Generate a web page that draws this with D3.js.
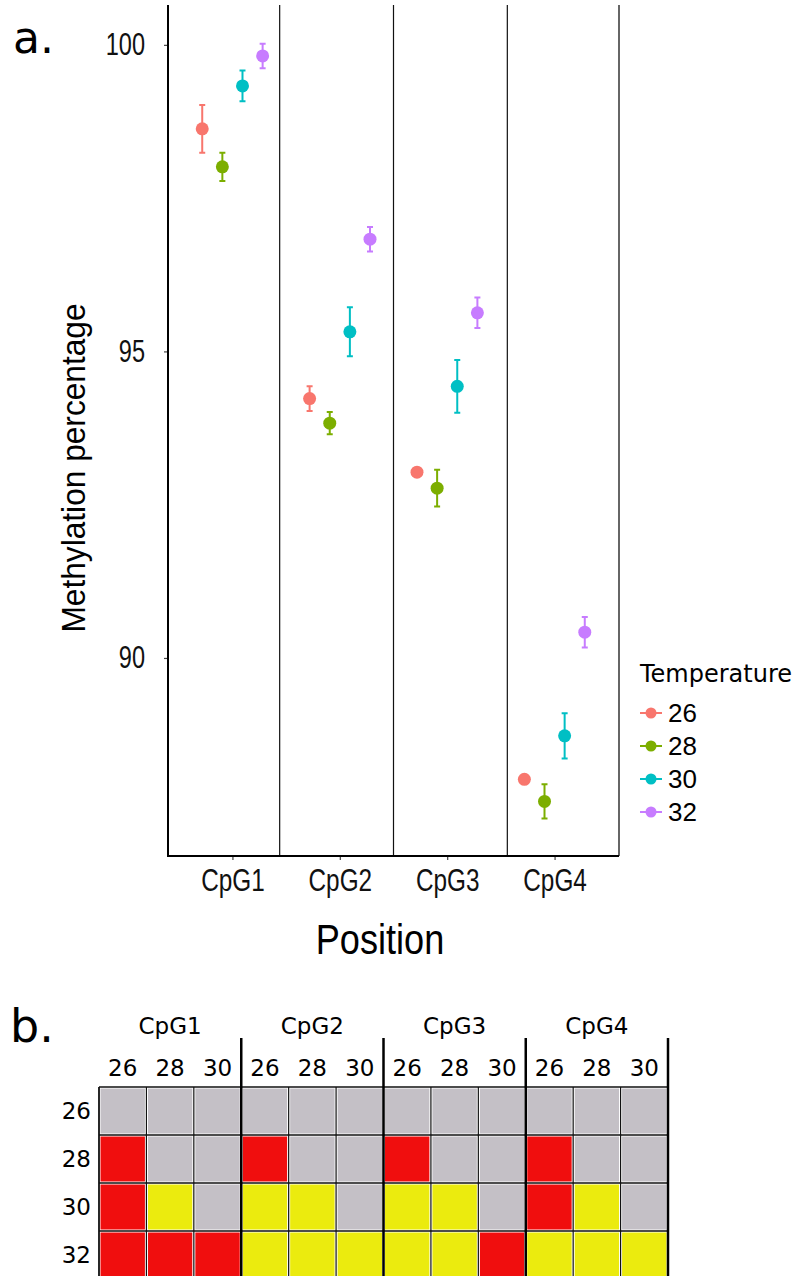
<!DOCTYPE html>
<html>
<head>
<meta charset="utf-8">
<script src="https://cdn.jsdelivr.net/npm/d3@7"></script>
<style>
  body { margin: 0; background: #fff; }
  svg { display: block; }
</style>
</head>
<body>
<div id="chart"></div>
<script>
// Data - panel a
const positions = ["CpG1", "CpG2", "CpG3", "CpG4"];
const temps = ["26", "28", "30", "32"];
const tempColors = ["#F8766D", "#7CAE00", "#00BFC4", "#C77CFF"];
const meanT26 = [98.63, 94.23, 93.03, 88.02];
const seT26 = [0.39, 0.20, 0.02, 0.02];
const meanT28 = [98.01, 93.83, 92.77, 87.66];
const seT28 = [0.23, 0.18, 0.30, 0.28];
const meanT30 = [99.33, 95.32, 94.43, 88.73];
const seT30 = [0.25, 0.40, 0.43, 0.37];
const meanT32 = [99.82, 96.83, 95.63, 90.42];
const seT32 = [0.20, 0.20, 0.25, 0.25];
const yTicks = [90, 95, 100];
const separators = [1.44, 2.5, 3.56];

// Data - panel b (n = gris, r = vermell, y = groc)
const heatGroups = ["CpG1", "CpG2", "CpG3", "CpG4"];
const heatCols = ["26", "28", "30"];
const heatRows = ["26", "28", "30", "32"];
const heatCodes = [
  ["nnn", "rnn", "ryn", "rrr"],
  ["nnn", "rnn", "yyn", "yyy"],
  ["nnn", "rnn", "yyn", "yyr"],
  ["nnn", "rnn", "ryn", "yyy"]
];

const sans = "'Liberation Sans', Arial, sans-serif";
const dejavu = "'DejaVu Sans', sans-serif";
const squeeze = 0.76; // text estreta com a la figura original

const svg = d3.select("#chart")
  .append("svg")
  .attr("width", 802)
  .attr("height", 1276);

svg.append("rect").attr("width", 802).attr("height", 1276).attr("fill", "#fff");

// ---------- Panel a ----------
const plot = { left: 168, right: 619, top: 5, bottom: 856 };

const x = d3.scaleLinear().domain([0.4, 4.6]).range([plot.left, plot.right]);
const y = d3.scaleLinear().domain([86.77, 100.65]).range([plot.bottom, plot.top]);
const dodge = d3.scaleBand().domain(temps).range([-0.375, 0.375]);

const means = [meanT26, meanT28, meanT30, meanT32];
const ses = [seT26, seT28, seT30, seT32];

const points = [];
temps.forEach((t, ti) => {
  positions.forEach((p, pi) => {
    points.push({
      temp: t,
      color: tempColors[ti],
      xv: pi + 1 + dodge(t) + dodge.bandwidth() / 2,
      mean: means[ti][pi],
      se: ses[ti][pi]
    });
  });
});

// separadors verticals
svg.selectAll(".sep")
  .data(separators)
  .enter()
  .append("line")
    .attr("x1", d => x(d))
    .attr("x2", d => x(d))
    .attr("y1", plot.top)
    .attr("y2", plot.bottom)
    .attr("stroke", "#111")
    .attr("stroke-width", 1.2);

// vora dreta
svg.append("line")
  .attr("x1", plot.right).attr("x2", plot.right)
  .attr("y1", plot.top).attr("y2", plot.bottom)
  .attr("stroke", "#333")
  .attr("stroke-width", 1.5);

// Eix Y
const yAxis = svg.append("g")
  .attr("transform", `translate(${plot.left},0)`)
  .call(d3.axisLeft(y).tickValues(yTicks).tickSize(4));
yAxis.select(".domain").remove();
yAxis.selectAll(".tick line").attr("stroke", "#444").attr("stroke-width", 1.2);
yAxis.selectAll(".tick text")
  .attr("x", -23 / squeeze)
  .attr("transform", `scale(${squeeze},1)`)
  .style("font-family", sans)
  .style("font-size", "31px")
  .attr("fill", "#111");

svg.append("line")
  .attr("x1", plot.left).attr("x2", plot.left)
  .attr("y1", plot.top).attr("y2", plot.bottom + 1)
  .attr("stroke", "#000")
  .attr("stroke-width", 2);

// Eix X
const xAxis = svg.append("g")
  .attr("transform", `translate(0,${plot.bottom})`)
  .call(d3.axisBottom(x).tickValues([1, 2, 3, 4]).tickFormat(d => positions[d - 1]).tickSize(4).tickPadding(8));
xAxis.select(".domain").remove();
xAxis.selectAll(".tick line").attr("stroke", "#444").attr("stroke-width", 1.2);
xAxis.selectAll(".tick text")
  .attr("transform", `scale(${squeeze},1)`)
  .style("font-family", sans)
  .style("font-size", "32px")
  .attr("fill", "#111");

svg.append("line")
  .attr("x1", plot.left - 1).attr("x2", plot.right)
  .attr("y1", plot.bottom).attr("y2", plot.bottom)
  .attr("stroke", "#000")
  .attr("stroke-width", 2);

// Barres d'error
svg.selectAll(".err")
  .data(points)
  .enter()
  .append("path")
    .attr("d", d => {
      const cx = x(d.xv), y1 = y(d.mean + d.se), y2 = y(d.mean - d.se);
      return `M${cx - 3},${y1}H${cx + 3}M${cx},${y1}V${y2}M${cx - 3},${y2}H${cx + 3}`;
    })
    .attr("fill", "none")
    .attr("stroke", d => d.color)
    .attr("stroke-width", 2);

// Punts
svg.selectAll(".dot")
  .data(points)
  .enter()
  .append("circle")
    .attr("cx", d => x(d.xv))
    .attr("cy", d => y(d.mean))
    .attr("r", 6.5)
    .attr("fill", d => d.color);

// Títols d'eixos
svg.append("text")
  .attr("transform", "translate(85,468) rotate(-90) scale(0.96,1)")
  .attr("text-anchor", "middle")
  .style("font-family", sans)
  .style("font-size", "33px")
  .attr("fill", "#000")
  .text("Methylation percentage");

svg.append("text")
  .attr("transform", "translate(380,954) scale(0.86,1)")
  .attr("text-anchor", "middle")
  .style("font-family", sans)
  .style("font-size", "42px")
  .attr("fill", "#000")
  .text("Position");

// Llegenda
const legend = svg.append("g").attr("transform", "translate(640,0)");
legend.append("text")
  .attr("x", 0)
  .attr("y", 682)
  .style("font-family", dejavu)
  .style("font-size", "24px")
  .attr("fill", "#000")
  .text("Temperature");

const leg = legend.selectAll(".key")
  .data(temps)
  .enter()
  .append("g")
    .attr("transform", (d, i) => `translate(0,${713 + i * 33})`);
leg.append("line")
  .attr("x1", 0).attr("x2", 22)
  .attr("stroke", (d, i) => tempColors[i])
  .attr("stroke-width", 2);
leg.append("circle")
  .attr("cx", 11)
  .attr("r", 5.5)
  .attr("fill", (d, i) => tempColors[i]);
leg.append("text")
  .attr("x", 28)
  .attr("dy", "0.36em")
  .style("font-family", sans)
  .style("font-size", "26px")
  .attr("fill", "#000")
  .text(d => d);

svg.append("text")
  .attr("x", 13)
  .attr("y", 53)
  .style("font-family", dejavu)
  .style("font-size", "44px")
  .attr("fill", "#000")
  .text("a.");

// ---------- Panel b ----------
const heat = { left: 99, right: 668, top: 1087, rowH: 48 };
const colKeys = [];
heatGroups.forEach(g => heatCols.forEach(c => colKeys.push(g + "_" + c)));

const hx = d3.scaleBand().domain(colKeys).range([heat.left, heat.right]);
const hy = d3.scaleBand().domain(heatRows).range([heat.top, heat.top + heat.rowH * heatRows.length]);
const fillFor = { n: "#C4C0C6", r: "#F00E0E", y: "#EBEB0E" };

const cells = [];
heatGroups.forEach((g, gi) => {
  heatRows.forEach((r, ri) => {
    heatCols.forEach((c, ci) => {
      cells.push({ key: g + "_" + c, row: r, code: heatCodes[gi][ri][ci] });
    });
  });
});

svg.selectAll(".cell")
  .data(cells)
  .enter()
  .append("rect")
    .attr("x", d => hx(d.key) + 1)
    .attr("y", d => hy(d.row) + 1)
    .attr("width", hx.bandwidth() - 2)
    .attr("height", hy.bandwidth() - 2)
    .attr("fill", d => fillFor[d.code])
    .attr("stroke", "#fff")
    .attr("stroke-width", 1);

// línies de la graella
svg.selectAll(".hgrid")
  .data(heatRows)
  .enter()
  .append("line")
    .attr("x1", heat.left).attr("x2", heat.right)
    .attr("y1", d => hy(d)).attr("y2", d => hy(d))
    .attr("stroke", "#111")
    .attr("stroke-width", 1.3);

svg.selectAll(".vgrid")
  .data(colKeys)
  .enter()
  .append("line")
    .attr("x1", d => hx(d)).attr("x2", d => hx(d))
    .attr("y1", heat.top).attr("y2", 1276)
    .attr("stroke", "#111")
    .attr("stroke-width", (d, i) => i === 0 ? 1.8 : 1.2);

// separadors gruixuts entre grups
svg.selectAll(".gsep")
  .data(heatGroups)
  .enter()
  .append("line")
    .attr("x1", d => hx(d + "_30") + hx.bandwidth())
    .attr("x2", d => hx(d + "_30") + hx.bandwidth())
    .attr("y1", 1038).attr("y2", 1276)
    .attr("stroke", "#000")
    .attr("stroke-width", 2.5);

// etiquetes de grup
svg.selectAll(".glabel")
  .data(heatGroups)
  .enter()
  .append("text")
    .attr("x", d => hx(d + "_28") + hx.bandwidth() / 2)
    .attr("y", 1034)
    .attr("text-anchor", "middle")
    .style("font-family", dejavu)
    .style("font-size", "23px")
    .attr("fill", "#000")
    .text(d => d);

// etiquetes de columna
svg.selectAll(".clabel")
  .data(colKeys)
  .enter()
  .append("text")
    .attr("x", d => hx(d) + hx.bandwidth() / 2)
    .attr("y", 1076)
    .attr("text-anchor", "middle")
    .style("font-family", dejavu)
    .style("font-size", "23px")
    .attr("fill", "#000")
    .text(d => d.split("_")[1]);

// etiquetes de fila
svg.selectAll(".rlabel")
  .data(heatRows)
  .enter()
  .append("text")
    .attr("x", 91)
    .attr("y", d => hy(d) + hy.bandwidth() / 2)
    .attr("dy", "0.36em")
    .attr("text-anchor", "end")
    .style("font-family", dejavu)
    .style("font-size", "23px")
    .attr("fill", "#000")
    .text(d => d);

svg.append("text")
  .attr("x", 10)
  .attr("y", 1042)
  .style("font-family", dejavu)
  .style("font-size", "46px")
  .attr("fill", "#000")
  .text("b.");
</script>
</body>
</html>
